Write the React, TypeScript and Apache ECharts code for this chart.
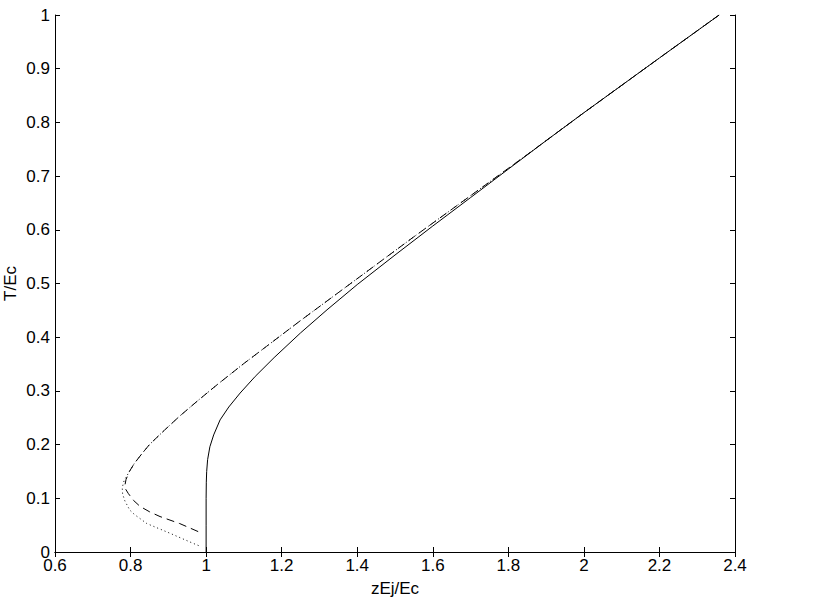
import React, { useEffect, useRef } from "react";
import * as echarts from "echarts";

const xTicks = { min: 0.6, max: 2.4, interval: 0.2 };
const yTicks = { min: 0, max: 1, interval: 0.1 };

const solidCurve: [number, number][] = [
  [1.0, 0], [1.0, 0.05], [1.0, 0.1], [1.0005, 0.13], [1.0015, 0.15], [1.004, 0.172],
  [1.01, 0.196], [1.02, 0.218], [1.037, 0.246], [1.06, 0.27], [1.09, 0.296],
  [1.13, 0.327], [1.18, 0.362], [1.25, 0.408], [1.32, 0.451], [1.4, 0.498],
  [1.5, 0.553], [1.6, 0.607], [1.7, 0.66], [1.8, 0.713], [1.9, 0.766],
  [2.0, 0.818], [2.2, 0.92], [2.358, 1.0],
];

const dashedCurve: [number, number][] = [
  [0.979, 0.038], [0.93, 0.053], [0.878, 0.066], [0.85, 0.075], [0.825, 0.085],
  [0.808, 0.096], [0.794, 0.109], [0.787, 0.117], [0.785, 0.124], [0.788, 0.135],
  [0.797, 0.15], [0.81, 0.165], [0.83, 0.183], [0.85, 0.2], [0.89, 0.227],
  [0.93, 0.253], [0.98, 0.283], [1.03, 0.312], [1.1, 0.351], [1.16, 0.383],
  [1.25, 0.431], [1.35, 0.483], [1.45, 0.535], [1.55, 0.587], [1.65, 0.638],
  [1.75, 0.689], [1.85, 0.74], [1.9, 0.766], [2.0, 0.818], [2.2, 0.92], [2.358, 1.0],
];

const dottedCurve: [number, number][] = [
  [0.98, 0.012], [0.966, 0.016], [0.904, 0.035], [0.843, 0.053], [0.81, 0.07],
  [0.798, 0.078], [0.785, 0.095], [0.779, 0.108], [0.778, 0.12], [0.783, 0.133],
  [0.797, 0.15], [0.81, 0.165], [0.83, 0.183], [0.85, 0.2], [0.89, 0.227],
  [0.93, 0.253], [0.98, 0.283], [1.03, 0.312], [1.1, 0.351], [1.16, 0.383],
  [1.25, 0.431], [1.35, 0.483], [1.45, 0.535], [1.55, 0.587], [1.65, 0.638],
  [1.75, 0.689], [1.85, 0.74], [1.9, 0.766], [2.0, 0.818], [2.2, 0.92], [2.358, 1.0],
];

const FONT = "'Liberation Sans', Arial, Helvetica, sans-serif";

export default function App() {
  const ref = useRef<HTMLDivElement>(null);
  useEffect(() => {
    if (!ref.current) return;
    const chart = echarts.init(ref.current, null, { renderer: "svg" });
    const axisLine = { show: true, lineStyle: { color: "#000", width: 1 } };
    const tick = { show: true, inside: true, length: 5, lineStyle: { color: "#000", width: 1 } };
    const label = { color: "#000", fontSize: 17, fontFamily: FONT };
    chart.setOption({
      animation: false,
      backgroundColor: "#fff",
      grid: {
        left: 55, top: 15, right: 82, bottom: 47,
        containLabel: false, outerBoundsMode: "none",
      },
      xAxis: [
        {
          type: "value", ...xTicks, position: "bottom",
          name: "zEj/Ec", nameLocation: "middle", nameGap: 28, nameMoveOverlap: false,
          nameTextStyle: { color: "#000", fontSize: 17, fontFamily: FONT },
          axisLine, axisTick: tick, axisLabel: { ...label, margin: 5 },
          splitLine: { show: false },
        },
        {
          type: "value", ...xTicks, position: "top",
          axisLine, axisTick: tick, axisLabel: { show: false }, splitLine: { show: false },
        },
      ],
      yAxis: [
        {
          type: "value", ...yTicks, position: "left",
          name: "T/Ec", nameLocation: "middle", nameGap: 36, nameMoveOverlap: false,
          nameTextStyle: { color: "#000", fontSize: 17, fontFamily: FONT },
          axisLine, axisTick: tick, axisLabel: { ...label, margin: 5 },
          splitLine: { show: false },
        },
        {
          type: "value", ...yTicks, position: "right",
          axisLine, axisTick: tick, axisLabel: { show: false }, splitLine: { show: false },
        },
      ],
      series: [
        {
          type: "line", data: dottedCurve, showSymbol: false, symbol: "none",
          lineStyle: { color: "#000", width: 1, type: [1, 3] }, z: 3,
        },
        {
          type: "line", data: dashedCurve, showSymbol: false, symbol: "none",
          lineStyle: { color: "#000", width: 1, type: [8, 5] }, z: 4,
        },
        {
          type: "line", data: solidCurve, showSymbol: false, symbol: "none",
          lineStyle: { color: "#000", width: 1 }, z: 5,
        },
      ],
    });
    return () => chart.dispose();
  }, []);
  return (
    <div
      ref={ref}
      style={{ position: "fixed", left: 0, top: 0, width: 817, height: 599, background: "#fff" }}
    />
  );
}
